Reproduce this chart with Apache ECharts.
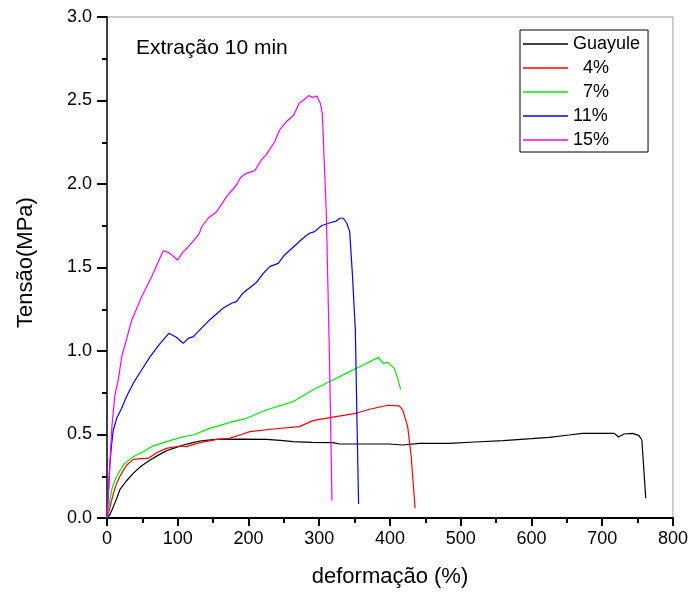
<!DOCTYPE html>
<html>
<head>
<meta charset="utf-8">
<script src="https://cdn.jsdelivr.net/npm/echarts@6/dist/echarts.min.js"></script>
<style>html,body{margin:0;padding:0;background:#fff}#c{width:691px;height:594px}</style>
</head>
<body>
<div id="c"></div>
<script>
var seriesNames = ["Guayule", "  4%", "  7%", "11%", "15%"];
var seriesColors = ["#000000", "#ff0000", "#00ee00", "#0000ff", "#ff00ff"];
var xTicks = [0, 100, 200, 300, 400, 500, 600, 700, 800];
var yTicks = [0.0, 0.5, 1.0, 1.5, 2.0, 2.5, 3.0];

var guayule = [[0,0],[4,0.02],[9,0.068],[14,0.12],[18,0.168],[27,0.22],[37,0.267],[48,0.31],[61,0.347],[72,0.375],[84,0.403],[96,0.42],[108,0.437],[120,0.45],[131,0.461],[143,0.466],[155,0.471],[190,0.472],[225,0.471],[245,0.465],[263,0.457],[290,0.453],[319,0.451],[329,0.443],[366,0.443],[399,0.443],[418,0.437],[442,0.447],[484,0.447],[520,0.455],[560,0.463],[600,0.475],[625,0.483],[653,0.497],[672,0.507],[700,0.507],[717,0.507],[723,0.485],[731,0.503],[743,0.507],[752,0.493],[756,0.467],[761.5,0.118]];
var p4 = [[0,0],[4,0.06],[9,0.148],[13,0.2],[18,0.247],[23,0.285],[28,0.317],[37,0.351],[48,0.355],[58,0.357],[70,0.391],[84,0.417],[103,0.431],[112,0.427],[131,0.451],[155,0.471],[173,0.477],[190,0.5],[202,0.517],[235,0.533],[272,0.547],[291,0.583],[315,0.601],[352,0.627],[371,0.651],[397,0.675],[413,0.671],[418,0.647],[425,0.547],[430,0.367],[435.5,0.058]];
var p7 = [[0,0],[3,0.08],[6.6,0.168],[11,0.225],[16,0.267],[25,0.327],[37,0.367],[51,0.397],[63,0.427],[84,0.457],[108,0.487],[122,0.497],[145,0.537],[178,0.577],[197,0.597],[225,0.647],[263,0.697],[291,0.766],[319,0.826],[338,0.866],[357,0.906],[384,0.962],[390,0.926],[397,0.932],[406,0.896],[411,0.836],[415,0.77]];
var p11 = [[0,0],[2,0.15],[4.2,0.327],[6.5,0.44],[8.9,0.527],[14,0.6],[20.7,0.657],[28,0.73],[37,0.806],[48,0.88],[61,0.966],[74,1.04],[87.5,1.106],[98,1.082],[107.7,1.046],[115,1.076],[122,1.086],[145,1.186],[164,1.256],[176,1.286],[183,1.296],[192,1.346],[211,1.41],[221,1.465],[230,1.505],[242,1.525],[251,1.575],[277,1.675],[286,1.705],[293.5,1.715],[303,1.75],[315,1.768],[324,1.778],[329,1.795],[334,1.795],[339,1.765],[343,1.715],[347,1.45],[351,1.126],[353.5,0.55],[355.6,0.084]];
var p15 = [[0,0],[2,0.15],[4,0.33],[7,0.55],[11,0.73],[16,0.83],[21,0.97],[27,1.06],[35,1.186],[49,1.325],[63,1.445],[79.5,1.6],[87.5,1.589],[99.7,1.545],[107.7,1.595],[113,1.615],[130,1.70],[134,1.744],[143,1.795],[155,1.834],[169,1.924],[183,1.994],[189,2.04],[197,2.064],[209,2.08],[218,2.144],[225,2.174],[237,2.253],[244,2.323],[253.5,2.373],[264,2.413],[272,2.487],[278,2.503],[285,2.529],[291,2.519],[296.7,2.527],[301.5,2.483],[304.3,2.423],[310,1.825],[314.6,0.93],[318,0.104]];
var allData = [guayule, p4, p7, p11, p15];

var FF = "'Liberation Sans', Arial, Helvetica, sans-serif";
var chart = echarts.init(document.getElementById('c'), null, {renderer: 'canvas'});
var series = allData.map(function (d, i) {
  return {
    name: seriesNames[i], type: 'line', data: d, showSymbol: false, symbol: 'none',
    lineStyle: {color: seriesColors[i], width: 1.2}, itemStyle: {color: seriesColors[i]},
    xAxisIndex: 0, yAxisIndex: 0, z: 3
  };
});
chart.setOption({
  animation: false,
  backgroundColor: '#fff',
  grid: {left: 107, right: 17, top: 17, bottom: 76, show: true, borderColor: '#999', borderWidth: 1, containLabel: false},
  legend: {
    orient: 'vertical', left: 520, top: 30, icon: 'rect', itemWidth: 45, itemHeight: 1.5, itemGap: 6,
    data: seriesNames,
    textStyle: {fontSize: 18, color: '#000', fontFamily: FF},
    borderColor: '#000', borderWidth: 1, padding: [5, 8, 3, 3], backgroundColor: '#fff'
  },
  graphic: [{type: 'text', left: 136, top: 38, style: {text: 'Extração 10 min', fontSize: 21, fill: '#000', fontFamily: FF}}],
  xAxis: [{
    type: 'value', min: xTicks[0], max: xTicks[xTicks.length - 1], interval: 100,
    name: 'deformação (%)', nameLocation: 'middle', nameGap: 48,
    nameTextStyle: {fontSize: 22, color: '#000', fontFamily: FF},
    axisLine: {show: true, onZero: false, lineStyle: {color: '#000', width: 2}},
    axisTick: {show: true, inside: false, length: 8, lineStyle: {color: '#000', width: 2}},
    minorTick: {show: true, splitNumber: 2, length: 5, lineStyle: {color: '#000', width: 2}},
    axisLabel: {fontSize: 18, color: '#000', margin: 12, fontFamily: FF},
    splitLine: {show: false}
  }],
  yAxis: [{
    type: 'value', min: yTicks[0], max: yTicks[yTicks.length - 1], interval: 0.5,
    name: 'Tensão(MPa)', nameLocation: 'middle', nameGap: 70,
    nameTextStyle: {fontSize: 22, color: '#000', fontFamily: FF, padding: [0, 0, 0, 10]},
    axisLine: {show: true, onZero: false, lineStyle: {color: '#000', width: 2}},
    axisTick: {show: true, inside: false, length: 10, lineStyle: {color: '#000', width: 2}},
    minorTick: {show: true, splitNumber: 2, length: 5, lineStyle: {color: '#000', width: 2}},
    axisLabel: {fontSize: 18, color: '#000', margin: 15, fontFamily: FF, formatter: function (v) { return v.toFixed(1); }},
    splitLine: {show: false}
  }, {
    type: 'value', position: 'right', min: 0, max: 3, interval: 0.5,
    axisLine: {show: true, lineStyle: {color: '#555', width: 1.5}},
    axisTick: {show: false}, axisLabel: {show: false}, splitLine: {show: false}
  }],
  series: series
});
</script>
</body>
</html>
